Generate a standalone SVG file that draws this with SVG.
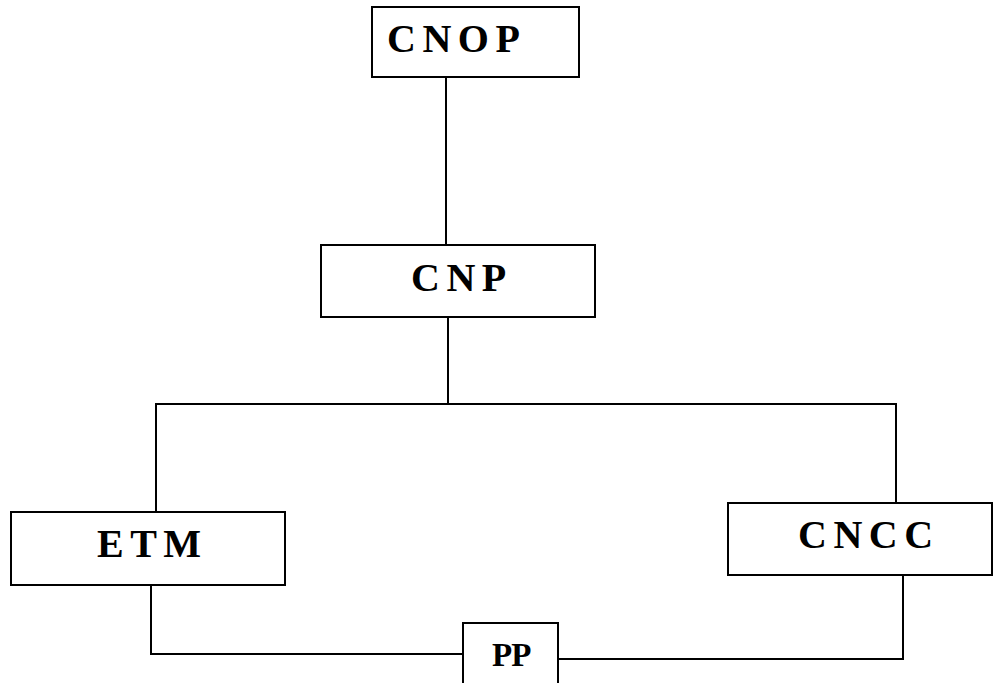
<svg xmlns="http://www.w3.org/2000/svg" width="994" height="683" viewBox="0 0 994 683">
<style>
.box{fill:#fff;stroke:#000;stroke-width:2}
.lbl{font-family:"Liberation Serif","Times New Roman",serif;font-weight:bold;font-size:40px;letter-spacing:6.5px;fill:#000}
.sm{font-size:33px;letter-spacing:-1px}
.wire{fill:none;stroke:#000;stroke-width:2}
</style>
<rect width="994" height="683" fill="#fff"/>
<g id="connectors">
<path class="wire" d="M446 77V262"/>
<path class="wire" d="M448 317V404"/>
<path class="wire" d="M156 511V404H896V503"/>
<path class="wire" d="M151 585V654H463"/>
<path class="wire" d="M558 659H903V575"/>
</g>
<g id="CNOP"><rect class="box" x="372" y="7" width="207" height="70"/><text class="lbl" x="387" y="52">CNOP</text></g>
<g id="CNP"><rect class="box" x="321" y="245" width="274" height="72"/><text class="lbl" x="411" y="291">CNP</text></g>
<g id="ETM"><rect class="box" x="11" y="512" width="274" height="73"/><text class="lbl" x="97" y="557">ETM</text></g>
<g id="CNCC"><rect class="box" x="728" y="503" width="264" height="72"/><text class="lbl" x="798" y="548">CNCC</text></g>
<g id="PP"><rect class="box" x="463" y="623" width="95" height="80"/><text class="lbl sm" x="492" y="666">PP</text></g>
</svg>
